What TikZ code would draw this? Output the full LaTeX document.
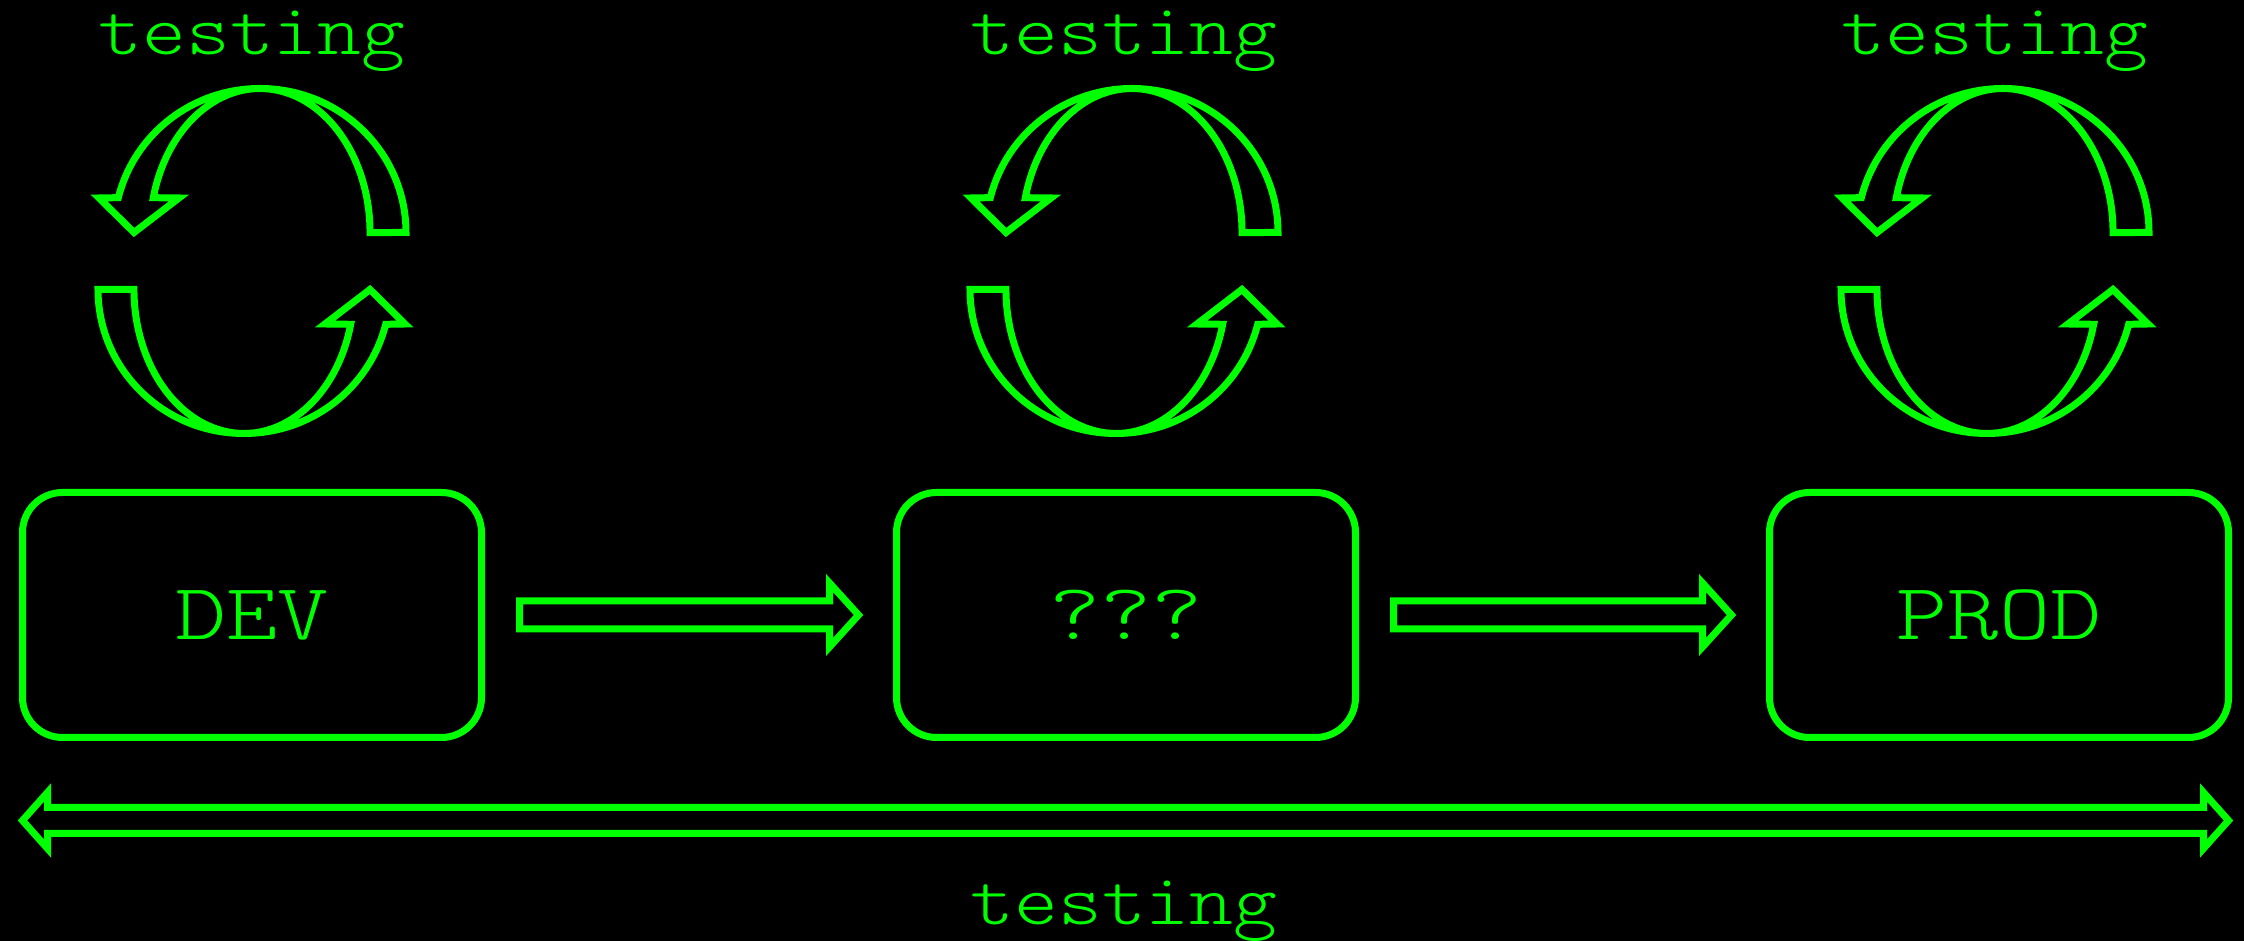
\documentclass[tikz,border=0pt]{standalone}
\usepackage{fontspec}
\newfontfamily\labfont{lmmonolt10-regular.otf}[FakeStretch=1.16]
\newfontfamily\boxfont{lmmonolt10-regular.otf}[FakeStretch=1.22]
\usetikzlibrary{calc}
\definecolor{neon}{HTML}{00FF00}
\begin{document}
\begin{tikzpicture}[x=0.5pt,y=0.5pt,
  gl/.style={draw=neon,line width=3.5pt,line join=miter,miter limit=10},
  box/.style={gl,rounded corners=20pt,minimum width=229.5pt,minimum height=122.5pt,
    inner sep=0pt,outer sep=0pt,text=neon,font=\boxfont\fontsize{40}{48}\selectfont},
  lbl/.style={text=neon,anchor=base,inner sep=0pt,font=\labfont\fontsize{36}{44}\selectfont},
  cyclearrows/.pic={
    \draw[gl] (154,28.5) arc[start angle=0,end angle=166,x radius=73pt,y radius=72pt]
      -- (-153,63) -- (-118,28.5) -- (-73,63) -- (-98.7,63.3)
      arc[start angle=166,end angle=0,x radius=55pt,y radius=72pt] -- cycle;
    \draw[gl] (-154,-28.5) arc[start angle=180,end angle=346,x radius=73pt,y radius=72pt]
      -- (153,-63) -- (118,-28.5) -- (73,-63) -- (98.7,-63.3)
      arc[start angle=346,end angle=180,x radius=55pt,y radius=72pt] -- cycle;
  }
]
\useasboundingbox[fill=black] (0,0) rectangle (2244,941);

% stages
\node[box] (dev)  at (252,326)  {DEV};
\node[box] (mid)  at (1126,326) {???};
\node[box] (prod) at (1999,326) {PROD};

% testing cycles
\pic at (252,680)  {cyclearrows};
\pic at (1124,680) {cyclearrows};
\pic at (1995,680) {cyclearrows};

\node[lbl] (t1) at (252,886)  {testing};
\node[lbl] (t2) at (1124,886) {testing};
\node[lbl] (t3) at (1995,886) {testing};
\node[lbl] (tb) at (1124,16)  {testing};

% block arrows between stages
\draw[gl] ($(dev.east)+(38,14)$) -- ($(mid.west)+(-67,14)$) -- ($(mid.west)+(-67,32)$)
  -- ($(mid.west)+(-38,0)$) -- ($(mid.west)+(-67,-32)$) -- ($(mid.west)+(-67,-14)$)
  -- ($(dev.east)+(38,-14)$) -- cycle;
\draw[gl] ($(mid.east)+(38,14)$) -- ($(prod.west)+(-67,14)$) -- ($(prod.west)+(-67,32)$)
  -- ($(prod.west)+(-38,0)$) -- ($(prod.west)+(-67,-32)$) -- ($(prod.west)+(-67,-14)$)
  -- ($(mid.east)+(38,-14)$) -- cycle;

% overall double arrow
\draw[gl] ($(dev.west)+(0,-205.5)$) -- ($(dev.west)+(25,-177.5)$) -- ($(dev.west)+(25,-192.5)$)
  -- ($(prod.east)+(-25,-192.5)$) -- ($(prod.east)+(-25,-177.5)$) -- ($(prod.east)+(0,-205.5)$)
  -- ($(prod.east)+(-25,-233.5)$) -- ($(prod.east)+(-25,-218.5)$) -- ($(dev.west)+(25,-218.5)$)
  -- ($(dev.west)+(25,-233.5)$) -- cycle;
\end{tikzpicture}
\end{document}
